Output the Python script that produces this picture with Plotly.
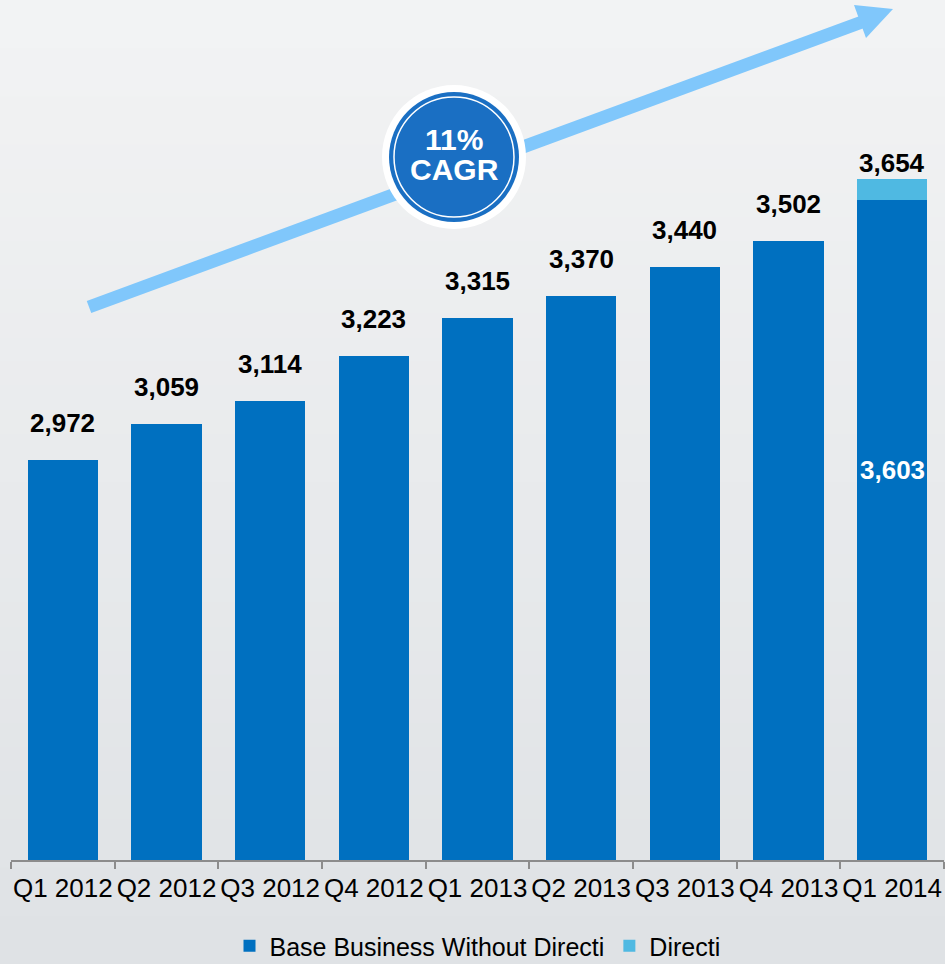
import plotly.graph_objects as go

categories = ["Q1 2012", "Q2 2012", "Q3 2012", "Q4 2012", "Q1 2013",
              "Q2 2013", "Q3 2013", "Q4 2013", "Q1 2014"]
base_values = [2972, 3059, 3114, 3223, 3315, 3370, 3440, 3502, 3603]
directi_values = [None, None, None, None, None, None, None, None, 51]
total_labels = [2972, 3059, 3114, 3223, 3315, 3370, 3440, 3502, 3654]
cagr_lines = ["11%", "CAGR"]

W, H = 945, 964
ML, MR, MT, MB = 11, 1, 36, 104
PW, PH = W - ML - MR, H - MT - MB
FONT = "Arial, Liberation Sans, sans-serif"
BLUE = "#0070c0"
LIGHT = "#4fb9e2"
ARROW = "#80c7fb"


def px(x):
    return (x - ML) / PW


def py(y):
    return (H - MB - y) / PH


fig = go.Figure()
fig.add_bar(x=categories, y=base_values, name="Base Business Without Directi",
            marker=dict(color=BLUE, line=dict(width=0)), width=0.68)
fig.add_bar(x=categories, y=directi_values, name="Directi",
            marker=dict(color=LIGHT, line=dict(width=0)), width=0.68)

# total labels above bars
for i, (c, t) in enumerate(zip(categories, total_labels)):
    shift = 20 if i < len(categories) - 1 else -1
    fig.add_annotation(x=c, y=t, text=f"{t:,}", showarrow=False,
                       yanchor="bottom", yshift=shift,
                       font=dict(family=FONT, size=26, color="black", weight="bold"))

# inner label for the base of the last bar
fig.add_annotation(x=categories[-1], y=base_values[-1], text=f"{base_values[-1]:,}",
                   showarrow=False, yanchor="middle", yshift=-270,
                   font=dict(family=FONT, size=26, color="white", weight="bold"))

shapes = []
# background gradient bands
n = 40
top = (0xf2, 0xf3, 0xf4)
bot = (0xdf, 0xe2, 0xe5)
for k in range(n):
    f = k / (n - 1)
    col = "#%02x%02x%02x" % tuple(round(top[j] + (bot[j] - top[j]) * f) for j in range(3))
    y0 = k * H / n
    y1 = (k + 1) * H / n + 1
    shapes.append(dict(type="rect", xref="paper", yref="paper", layer="below",
                       x0=px(0), x1=px(W + 2), y0=py(y0), y1=py(y1),
                       fillcolor=col, line=dict(width=0)))

# growth arrow: shaft + head
shapes.append(dict(type="line", xref="paper", yref="paper",
                   x0=px(89), y0=py(307), x1=px(862), y1=py(22),
                   line=dict(color=ARROW, width=13)))
head = "M {:.5f} {:.5f} L {:.5f} {:.5f} L {:.5f} {:.5f} Z".format(
    px(893), py(9), px(854), py(5), px(866), py(38))
shapes.append(dict(type="path", xref="paper", yref="paper", path=head,
                   fillcolor=ARROW, line=dict(width=0)))

# CAGR badge
cx, cy = px(454), py(157)
for r, fill, lc, lw in [(72, "white", "white", 0), (65, "#1a6fc3", "#1a6fc3", 0),
                        (60, "rgba(0,0,0,0)", "white", 1.5)]:
    shapes.append(dict(type="circle", xref="paper", yref="paper",
                       xsizemode="pixel", ysizemode="pixel",
                       xanchor=cx, yanchor=cy, x0=-r, x1=r, y0=-r, y1=r,
                       fillcolor=fill, line=dict(color=lc, width=lw)))

for line_text, shift in zip(cagr_lines, [18, -12]):
    fig.add_annotation(xref="paper", yref="paper", x=cx, y=cy, text=line_text,
                       showarrow=False, xanchor="center", yanchor="middle", yshift=shift,
                       font=dict(family=FONT, size=30, color="white", weight="bold"))

fig.update_layout(
    width=W, height=H,
    margin=dict(l=ML, r=MR, t=MT, b=MB, pad=0, autoexpand=False),
    barmode="stack",
    paper_bgcolor="#e9ebed",
    plot_bgcolor="rgba(0,0,0,0)",
    shapes=shapes,
    showlegend=True,
    legend=dict(orientation="h", x=0.5, xanchor="center", y=py(946), yanchor="middle",
                font=dict(family=FONT, size=25, color="black"),
                bgcolor="rgba(0,0,0,0)", traceorder="normal"),
    xaxis=dict(showline=True, linecolor="#8c8c8c", linewidth=2, automargin=False,
               tickangle=0, ticklabelstandoff=4,
               ticks="outside", tickson="boundaries", ticklen=7, tickcolor="#8c8c8c",
               tickwidth=2, showgrid=False,
               tickfont=dict(family=FONT, size=26, color="black")),
    yaxis=dict(range=[2000, 4000], visible=False, showgrid=False, zeroline=False),
    font=dict(family=FONT),
)

fig.write_html("out.html")
